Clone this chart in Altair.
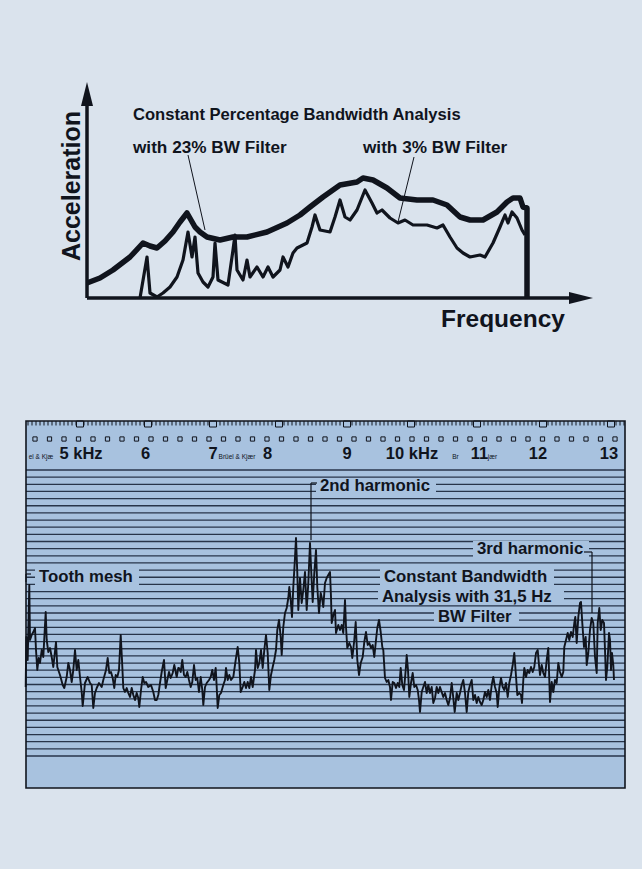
import altair as alt
import pandas as pd
import numpy as np

PAGE = "#dae3ed"
PANEL = "#a8c2df"
INK = "#10141d"
GRID = "#1a263a"
FONT = "Liberation Sans"

# ---------------- top chart: constant percentage bandwidth ----------------
# frequency units (0 = origin), acceleration units (0 = baseline)
bw23_f = [0, 13, 26, 43, 56, 63, 70, 78, 86, 93, 100, 108, 113, 120, 133, 146, 160, 180, 200, 213,
          223, 236, 253, 270, 276, 286, 300, 313, 330, 346, 360, 373, 383, 396, 410, 420, 426, 433, 436, 440, 440]
bw23_a = [15, 20, 28, 41, 55, 52, 50, 57, 66, 76, 85, 71, 66, 61, 58, 61, 61, 66, 75, 83,
          91, 101, 113, 116, 120, 118, 110, 100, 98, 98, 93, 81, 78, 78, 86, 96, 100, 100, 91, 90, 0]

bw3_f = [53, 60, 63, 70, 76, 83, 90, 96, 101, 105, 108, 111, 116, 121, 126, 128, 131, 141, 146, 148,
         150, 156, 160, 163, 170, 176, 181, 186, 193, 196, 201, 206, 210, 220, 225, 228, 233, 243, 248, 253,
         258, 263, 270, 278, 285, 290, 295, 303, 311, 318, 326, 340, 350, 356, 363, 370, 376, 383, 393, 398,
         406, 413, 418, 421, 425, 430, 435, 438]
bw3_a = [0, 41, 5, 1, 5, 11, 21, 38, 66, 41, 61, 25, 16, 11, 21, 55, 18, 13, 48, 63,
         28, 18, 38, 21, 31, 21, 31, 21, 28, 41, 31, 45, 50, 55, 71, 83, 68, 66, 81, 98,
         81, 78, 88, 108, 95, 85, 88, 80, 75, 78, 73, 73, 70, 73, 61, 50, 45, 41, 43, 41,
         55, 71, 83, 75, 86, 80, 68, 63]

top_axis_y_max = 200
top_axis_x_max = 490
top_arrow_y = 204
top_arrow_x = 494

top_leaders = pd.DataFrame({"f1": [101, 327], "f2": [118, 311], "a1": [143, 141], "a2": [68, 76]})
top_titles = pd.DataFrame({"f": [46], "a": [183], "t": ["Constant Percentage Bandwidth Analysis"]})
top_labels = pd.DataFrame({"f": [46, 276], "a": [150, 150], "t": ["with 23% BW Filter", "with 3% BW Filter"]})

# ---------------- bottom chart: constant bandwidth recorder chart ----------------
trace_seg1 = [(0.7,73),(1.3,123),(2.7,100),(4.3,175),(5,120),(6.7,125),(8.3,128),(10,132),(11,110),(12.3,90),
 (13.7,102),(15,97),(16.7,110),(18.3,103),(20.7,148),(21.7,120),(23.3,108),(25,112),(26.7,103),(28.3,93),
 (31,118),(32.3,93),(35,85),(37.7,75),(39.3,72),(41.7,83),(43.3,97),(45,90),(46.7,78),(48.3,90),(50,110),
 (51.7,90),(53.3,100),(55,83),(56.7,68),(57.7,54),(60,77),(62.7,83),(65,77),(66.7,75),(68.3,52),(70,67),
 (71.7,72),(74,77),(76.7,73),(78.3,80),(81,90),(82.7,102),(84.3,87),(86,88),(87.7,82),(89.3,72),(90.7,85),
 (92.3,83),(94,90),(95.7,125),(97,100),(98.3,72),(100,68),(101.7,72),(103.3,67),(105,63),(106.7,72),
 (108.3,65),(110,60),(111.7,67),(113.3,62),(114.3,53),(116,70),(117.7,83),(119.3,77),(121,78),(123.3,73),
 (126,75),(128.3,68),(130,60),(131.7,60),(133.3,65),(135,77),(136.7,88),(139,100),(140.7,72),(142.3,80),
 (144,88),(145.7,82),(147.7,87),(149.3,95),(151.7,83),(153.3,92)]
trace_seg2 = [(154,92),(155.7,88),(157.3,100),(159,85),(160.7,83),(162.3,88),(164,80),(165.7,73),(167.3,78),
 (169,95),(170.7,80),(172.3,82),(174,68),(175.7,83),(177.3,70),(178.3,55),(180,73),(181.7,77),(184,80),
 (185.7,83),(187.3,90),(189,80),(190.7,92),(191.7,73),(192.7,52),(194.3,65),(196,67),(198.3,75),(200,80),
 (201,92),(202.7,80),(204.3,85),(206,80),(208.3,83),(210.7,100),(212.7,113),(214.3,97),(215.7,68),
 (217.7,73),(219.3,78),(221,72),(222.7,78),(224.3,72),(226,83),(227.7,73),(230,90),(231,110),(232.7,92),
 (234.3,97),(236,110),(237.7,92),(239.3,110),(241,125),(242.7,107),(244.3,70),(246,85),(247.7,93),
 (249.3,100),(251,110),(252.3,130),(254,140),(255.7,123),(256.7,105),(258.3,133),(260,147),(261.7,152),
 (263.3,162),(264.3,173),(265.7,160),(267,143),(268.3,173),(269.7,197),(271,222),(272.3,187),(273.3,150),
 (275,182),(276.7,157),(278.3,170),(280,188),(281.7,150),(283.3,177),(285,217),(286.3,187),(287.7,158),
 (289.3,187),(291,210),(292.3,173),(294,147),(295.7,167),(297.3,160),(298.3,153),(300,177),(301.7,182),
 (303.3,185)]
trace_seg3 = [(305,188),(306,163),(306.7,137),(308.3,145),(310,150),(311,127),(313.3,135),(315,130),
 (316.7,135),(318.3,127),(320,160),(321,133),(322.3,112),(324.3,117),(326,113),(327.3,102),(329.3,120),
 (330.7,138),(332.3,100),(334,85),(335.7,97),(337.7,103),(339.3,118),(341,128),(342.7,115),(344.3,117),
 (346,112),(347.7,115),(349.3,103),(351,120),(352.3,132),(354,140),(355.7,128),(357.3,113),(358.3,110),
 (360,82),(361.7,78),(363.3,80),(365,73),(366,60),(367.7,78),(369.3,77),(371,72),(372.7,77),(374.3,73),
 (375.7,92),(377.3,75),(379,70),(380.7,90),(381.7,105),(383,90),(384.3,63),(386,77),(387.7,87),(389.3,73),
 (391,75),(392.7,70),(394,60),(395,48),(396.7,68),(398.3,73),(400,78),(401.7,67),(403.3,75),(405,67),
 (406.7,73),(408.3,57),(410,62),(411.7,73),(413.3,67),(415,73),(416.7,68),(418.3,63),(420,67),(421.7,60),
 (423.3,55),(425,62),(426.7,77),(428.3,62),(429.7,48),(431.7,67),(433.3,60),(435,67),(436.7,75),(438.3,80),
 (440,67),(441.7,48),(443.3,68),(445,75)]
trace_seg4 = [(446.7,80),(448.3,60),(450,65),(451.7,57),(453.3,63),(455,58),(456.7,55),(458.3,60),(460,68),
 (461.7,63),(463.3,70),(465,60),(466.7,75),(468.3,83),(470,73),(471.7,67),(472.7,53),(474.3,72),(476,82),
 (477.7,73),(479.3,70),(481,77),(482.7,63),(484.3,77),(486,85),(487.7,95),(489.3,107),(490.7,88),(492.3,65),
 (494.3,67),(496,65),(497,57),(498.3,80),(499.3,92),(501,83),(502.7,90),(504.3,87),(506,93),(507.7,88),
 (509.3,93),(511,107),(512.7,110),(514,95),(515,85),(516.7,95),(518.3,87),(520,83),(521.7,100),(523.3,112),
 (524.3,80),(525,58),(526.7,78),(528.3,68),(530,80),(531.7,77),(533.3,97),(535,88),(536.7,83),(538.3,88),
 (539.3,113),(541,120),(542.7,127),(544.3,120),(546,128),(547.7,123),(549.3,137),(550.3,143),(551.7,117),
 (553.3,143),(555,157),(556,158),(557.3,137),(559,113),(560.7,123),(561.7,95),(563.3,107),(565,130),
 (566.7,142),(568.3,137),(570,103),(571.7,87),(572.7,137),(574.3,152),(575.7,130),(577.3,140),(579,137),
 (580,110),(581,80),(582.3,93),(584,127),(585,120),(586,90),(587,107),(588.3,95),(589,80)]

strip_labels = ["5 kHz", "6", "7", "8", "9", "10 kHz", "11", "12", "13"]
strip_label_pos = [56, 120.5, 188, 242.5, 322, 387, 454.5, 513, 584]
strip_small = ["el & Kjæ", "Brüel & Kjær", "Br", "jær"]
strip_small_pos = [16, 212, 430.5, 467.5]
notch_pos = [55, 123, 188, 254, 322, 386, 452, 518, 586]

annot_text = ["2nd harmonic", "Tooth mesh", "3rd harmonic", "Constant Bandwidth",
              "Analysis with 31,5 Hz", "BW Filter"]
annot_f = [295, 14, 452, 359, 357, 413]
annot_a = [274, 183, 211, 183, 163, 143]
annot_w = [116, 100, 112, 170, 182, 81]

bottom_leaders = pd.DataFrame({"f1": [286, 286, 559, 567, 1, 1], "f2": [286, 292, 567, 567, 6, 1],
                               "a1": [277, 277, 208, 208, 186, 186], "a2": [220, 277, 208, 147, 186, 178]})

panel_f = [1, 600]
panel_a = [339, -28]
grid_levels = [290 - 7.15 * i for i in range(41)]

# ================= build top chart =================
XT = alt.Scale(domain=[-87, 555], nice=False, zero=False)
YT = alt.Scale(domain=[-92, 298], nice=False, zero=False)


def xq(field, sc):
    return alt.X(field, type="quantitative", scale=sc, axis=None)


def yq(field, sc):
    return alt.Y(field, type="quantitative", scale=sc, axis=None)


def texts(df, xs, ys, size, align="left", baseline="middle", angle=0, weight="bold", color=INK):
    return alt.Chart(df).mark_text(font=FONT, fontSize=size, fontWeight=weight, align=align,
                                   baseline=baseline, angle=angle, color=color).encode(
        x=xq("f", xs), y=yq("a", ys), text="t:N")


df23 = pd.DataFrame({"f": bw23_f, "a": bw23_a, "i": range(len(bw23_f))})
df3 = pd.DataFrame({"f": bw3_f, "a": bw3_a, "i": range(len(bw3_f))})

line23 = alt.Chart(df23).mark_line(color=INK, strokeWidth=5.5, strokeJoin="round").encode(
    x=xq("f", XT), y=yq("a", YT), order="i:Q")
line3 = alt.Chart(df3).mark_line(color=INK, strokeWidth=3.2, strokeJoin="round").encode(
    x=xq("f", XT), y=yq("a", YT), order="i:Q")

axes_df = pd.DataFrame({"f1": [0, 0], "f2": [0, top_axis_x_max], "a1": [0, 0], "a2": [top_axis_y_max, 0]})
axes = alt.Chart(axes_df).mark_rule(color=INK, strokeWidth=3.5).encode(
    x=xq("f1", XT), x2="f2", y=yq("a1", YT), y2="a2")

arrow_up = alt.Chart(pd.DataFrame({"f": [0], "a": [top_arrow_y]})).mark_point(
    shape="M0,-1L0.5,1L-0.5,1Z", filled=True, color=INK, size=576, opacity=1).encode(
    x=xq("f", XT), y=yq("a", YT))
arrow_right = alt.Chart(pd.DataFrame({"f": [top_arrow_x], "a": [0]})).mark_point(
    shape="M1,0L-1,0.5L-1,-0.5Z", filled=True, color=INK, size=576, opacity=1).encode(
    x=xq("f", XT), y=yq("a", YT))

leaders_t = alt.Chart(top_leaders).mark_rule(color=INK, strokeWidth=1).encode(
    x=xq("f1", XT), x2="f2", y=yq("a1", YT), y2="a2")

t_title = texts(top_titles, XT, YT, 16.6)
t_labels = texts(top_labels, XT, YT, 17.2)
t_acc = texts(pd.DataFrame({"f": [-15], "a": [112], "t": ["Acceleration"]}), XT, YT, 25,
              align="center", angle=270)
t_freq = texts(pd.DataFrame({"f": [354], "a": [-22], "t": ["Frequency"]}), XT, YT, 24.5)

top = alt.layer(line23, line3, axes, arrow_up, arrow_right, leaders_t, t_title, t_labels, t_acc, t_freq).properties(
    width=642, height=390)

# ================= build bottom chart =================
XB = alt.Scale(domain=[-25, 617], nice=False, zero=False)
YB = alt.Scale(domain=[-109, 370], nice=False, zero=False)

panel_df = pd.DataFrame({"f1": [panel_f[0]], "f2": [panel_f[1]], "a1": [panel_a[0]], "a2": [panel_a[1]]})
panel = alt.Chart(panel_df).mark_rect(fill=PANEL, stroke=None).encode(
    x=xq("f1", XB), x2="f2", y=yq("a1", YB), y2="a2")
frame = alt.Chart(panel_df).mark_rect(fill=None, stroke=INK, strokeWidth=1.6).encode(
    x=xq("f1", XB), x2="f2", y=yq("a1", YB), y2="a2")

grid_df = pd.DataFrame({"a": grid_levels, "f1": panel_f[0], "f2": panel_f[1]})
grid = alt.Chart(grid_df).mark_rule(color=GRID, strokeWidth=1.3, opacity=0.9).encode(
    x=xq("f1", XB), x2="f2", y=yq("a", YB))

mask_df = pd.DataFrame({"f1": [f - 4 for f in annot_f],
                        "f2": [f + w for f, w in zip(annot_f, annot_w)],
                        "a1": [a + 8 for a in annot_a], "a2": [a - 8 for a in annot_a]})
masks = alt.Chart(mask_df).mark_rect(fill=PANEL, stroke=None).encode(
    x=xq("f1", XB), x2="f2", y=yq("a1", YB), y2="a2")

trace_pts = trace_seg1 + trace_seg2 + trace_seg3 + trace_seg4
trace_df = pd.DataFrame({"f": [p[0] for p in trace_pts], "a": [p[1] for p in trace_pts],
                         "i": range(len(trace_pts))})
trace = alt.Chart(trace_df).mark_line(color=INK, strokeWidth=1.9, strokeJoin="round").encode(
    x=xq("f", XB), y=yq("a", YB), order="i:Q")

annot = texts(pd.DataFrame({"f": annot_f, "a": annot_a, "t": annot_text}), XB, YB, 16.8)
leaders_b = alt.Chart(bottom_leaders).mark_rule(color=INK, strokeWidth=1.2).encode(
    x=xq("f1", XB), x2="f2", y=yq("a1", YB), y2="a2")

comb_df = pd.DataFrame({"f": np.arange(3, 600, 4.0), "a1": 339, "a2": 334.5})
comb = alt.Chart(comb_df).mark_rule(color=INK, strokeWidth=1).encode(
    x=xq("f", XB), y=yq("a1", YB), y2="a2")
notch_df = pd.DataFrame({"f1": [p - 3.5 for p in notch_pos], "f2": [p + 3.5 for p in notch_pos],
                         "a1": 339, "a2": 333})
notches = alt.Chart(notch_df).mark_rect(fill=PANEL, stroke=INK, strokeWidth=1).encode(
    x=xq("f1", XB), x2="f2", y=yq("a1", YB), y2="a2")

sq_df = pd.DataFrame({"f": [10 + 14.5 * i for i in range(41)], "a": 321})
squares = alt.Chart(sq_df).mark_point(shape="square", filled=False, color=INK, size=18,
                                      strokeWidth=1, opacity=1).encode(
    x=xq("f", XB), y=yq("a", YB))

strip_big = texts(pd.DataFrame({"f": strip_label_pos, "a": 301, "t": strip_labels}), XB, YB, 16.5,
                  align="center", baseline="alphabetic")
strip_sm = texts(pd.DataFrame({"f": strip_small_pos, "a": 301, "t": strip_small}), XB, YB, 6.5,
                 align="center", baseline="alphabetic", weight="normal")

bottom = alt.layer(panel, grid, masks, trace, annot, leaders_b, comb, notches, squares,
                   strip_big, strip_sm, frame).properties(width=642, height=479)

chart = alt.vconcat(top, bottom, spacing=0, bounds="flush").properties(padding=0).configure(
    background=PAGE).configure_view(strokeWidth=0)

chart.save("out.html", embed_options={"renderer": "svg", "actions": False})
